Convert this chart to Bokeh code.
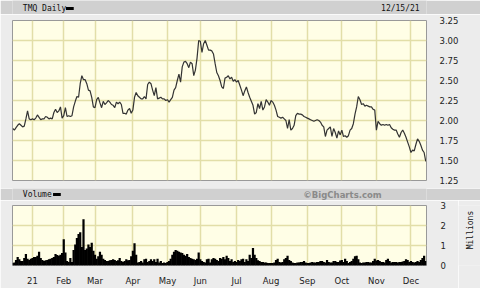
import math
import numpy as np
import pandas as pd
from bokeh.plotting import figure
from bokeh.models import Range1d, FixedTicker, Label
from bokeh.layouts import column, row
from bokeh.embed import file_html
from bokeh.resources import INLINE

# ---------------- data ----------------
symbol = "TMQ"
as_of = "12/15/21"
start_date = "2020-12-15"
end_date = "2021-12-15"
holidays = ["2020-12-25", "2021-01-01", "2021-01-18", "2021-02-15", "2021-04-02",
            "2021-05-31", "2021-07-05", "2021-09-06", "2021-11-25"]

close = [
    1.90, 1.88, 1.91, 1.94, 1.96, 1.94, 1.92, 1.93, 2.02, 2.12,
    2.02, 2.01, 2.02, 2.01, 2.03, 2.07, 2.04, 2.01, 2.02, 2.02,
    2.05, 2.04, 2.02, 2.03, 2.02, 2.10, 2.14, 2.10, 2.12, 2.17,
    2.03, 2.06, 2.16, 2.05, 2.06, 2.05, 2.06, 2.17, 2.24, 2.30,
    2.29, 2.46, 2.56, 2.51, 2.51, 2.46, 2.38, 2.37, 2.29, 2.17,
    2.16, 2.26, 2.29, 2.22, 2.16, 2.24, 2.20, 2.22, 2.25, 2.23,
    2.20, 2.19, 2.16, 2.23, 2.21, 2.23, 2.20, 2.09, 2.09, 2.08,
    2.13, 2.15, 2.09, 2.13, 2.29, 2.35, 2.31, 2.29, 2.27, 2.27,
    2.30, 2.27, 2.45, 2.48, 2.46, 2.38, 2.31, 2.41, 2.27, 2.28,
    2.29, 2.27, 2.27, 2.25, 2.26, 2.23, 2.26, 2.29, 2.38, 2.41,
    2.50, 2.58, 2.48, 2.67, 2.73, 2.74, 2.71, 2.66, 2.73, 2.71,
    2.56, 2.63, 2.78, 3.00, 2.99, 2.85, 2.96, 3.00, 2.94, 2.88,
    2.88, 2.87, 2.83, 2.71, 2.60, 2.56, 2.50, 2.42, 2.40, 2.53,
    2.54, 2.56, 2.52, 2.54, 2.49, 2.51, 2.48, 2.50, 2.44, 2.38,
    2.31, 2.37, 2.42, 2.35, 2.29, 2.24, 2.19, 2.08, 2.10, 2.21,
    2.15, 2.24, 2.13, 2.17, 2.26, 2.23, 2.19, 2.25, 2.23, 2.19,
    2.13, 2.05, 2.04, 2.03, 2.04, 2.02, 2.00, 1.90, 2.01, 1.88,
    1.90, 1.94, 2.06, 2.09, 2.08, 2.08, 2.07, 2.05, 2.04, 2.03,
    2.02, 2.01, 2.00, 1.99, 2.00, 2.01, 2.00, 1.98, 1.94, 1.92,
    1.80, 1.88, 1.90, 1.92, 1.80, 1.90, 1.85, 1.78, 1.87, 1.82,
    1.88, 1.80, 1.81, 1.79, 1.81, 1.88, 1.90, 1.96, 2.08, 2.17,
    2.30, 2.26, 2.20, 2.21, 2.18, 2.19, 2.18, 2.17, 2.17, 2.14,
    2.13, 1.88, 1.99, 1.96, 1.94, 1.95, 1.94, 1.95, 1.94, 1.95,
    1.91, 1.89, 1.88, 1.88, 1.83, 1.79, 1.85, 1.88, 1.84, 1.79,
    1.73, 1.67, 1.60, 1.63, 1.62, 1.70, 1.77, 1.74, 1.69, 1.63,
    1.60, 1.49,
]

volume_m = [
    0.12, 0.15, 0.28, 0.43, 0.31, 0.22, 0.23, 0.38, 0.58, 0.34,
    0.28, 0.34, 0.38, 0.43, 0.42, 0.49, 0.69, 0.37, 0.28, 0.23,
    0.26, 0.28, 0.31, 0.34, 0.37, 0.43, 0.57, 0.52, 0.49, 0.54,
    0.62, 1.31, 0.65, 0.23, 0.18, 0.37, 0.18, 0.77, 1.05, 1.38,
    1.57, 1.66, 0.92, 2.31, 0.77, 0.85, 1.05, 0.92, 1.14, 0.74,
    0.54, 0.34, 0.46, 0.69, 0.54, 0.34, 0.28, 0.23, 0.23, 0.26,
    0.28, 0.31, 0.28, 0.23, 0.26, 0.38, 0.23, 0.18, 0.23, 0.31,
    0.26, 0.28, 0.46, 0.74, 1.11, 0.54, 0.15, 0.18, 0.23, 0.15,
    0.31, 0.34, 0.18, 0.23, 0.31, 0.23, 0.31, 0.18, 0.34, 0.15,
    0.23, 0.12, 0.15, 0.12, 0.18, 0.23, 0.34, 0.54, 0.69, 0.77,
    0.74, 0.69, 0.65, 0.62, 0.54, 0.49, 0.58, 0.43, 0.37, 0.34,
    0.31, 0.28, 0.34, 0.65, 0.31, 0.23, 0.18, 0.15, 0.31, 0.34,
    0.15, 0.31, 0.38, 0.34, 0.28, 0.23, 0.38, 0.34, 0.43, 0.31,
    0.49, 0.38, 0.23, 0.31, 0.18, 0.23, 0.18, 0.28, 0.23, 0.31,
    0.34, 0.18, 0.31, 0.23, 0.54, 0.38, 0.88, 0.54, 0.37, 0.26,
    0.22, 0.18, 0.18, 0.15, 0.15, 0.12, 0.12, 0.12, 0.12, 0.15,
    0.28, 0.34, 0.18, 0.15, 0.18, 0.31, 0.37, 0.49, 0.28, 0.22,
    0.15, 0.12, 0.12, 0.15, 0.15, 0.18, 0.18, 0.22, 0.15, 0.12,
    0.12, 0.15, 0.18, 0.15, 0.15, 0.18, 0.18, 0.22, 0.23, 0.18,
    0.15, 0.28, 0.18, 0.15, 0.15, 0.22, 0.23, 0.18, 0.18, 0.25,
    0.28, 0.18, 0.34, 0.23, 0.12, 0.18, 0.23, 0.34, 0.46, 0.49,
    0.31, 0.15, 0.12, 0.15, 0.15, 0.17, 0.18, 0.15, 0.15, 0.22,
    0.34, 0.25, 0.28, 0.23, 0.18, 0.17, 0.15, 0.28, 0.34, 0.23,
    0.15, 0.17, 0.18, 0.17, 0.15, 0.17, 0.18, 0.20, 0.23, 0.31,
    0.28, 0.18, 0.23, 0.18, 0.15, 0.18, 0.23, 0.18, 0.28, 0.38,
    0.49, 0.23,
]

price_ticks = [1.25, 1.50, 1.75, 2.00, 2.25, 2.50, 2.75, 3.00, 3.25]
volume_ticks = [0, 1, 2, 3]

# ---------------- derived ----------------
sessions = pd.bdate_range(start_date, end_date, freq="C", holidays=holidays)
n = len(close)
idx = np.arange(n)
month_starts = [i for i in range(1, min(n, len(sessions)))
                if sessions[i].month != sessions[i - 1].month]
month_labels = {i: (sessions[i].strftime("%y") if sessions[i].month == 1
                    else sessions[i].strftime("%b")) for i in month_starts}

# ---------------- style ----------------
W = 480
SIDE = 22
BG = "#ececec"
BAR = "#d0d0d0"
PLOT_BG = "#fffee6"
GRID = "#e2dea8"
FONT = "DejaVu Sans"
MONO = "DejaVu Sans Mono"
x_range = Range1d(-0.15, n - 0.55)


def plain(w, h, fill):
    f = figure(width=w, height=h, x_range=Range1d(0, w), y_range=Range1d(0, h),
               min_border=0, toolbar_location=None, x_axis_location=None,
               y_axis_location=None, output_backend="svg", title=None)
    f.background_fill_color = fill
    f.border_fill_color = fill
    f.outline_line_color = None
    f.grid.visible = False
    return f


def style_right_axis(ax, standoff):
    ax.axis_line_color = None
    ax.major_tick_line_color = None
    ax.minor_tick_line_color = None
    ax.major_label_standoff = standoff
    ax.major_label_text_font = FONT
    ax.major_label_text_font_size = "8.5px"
    ax.major_label_text_color = "#222222"


# header 1
h1 = plain(W, 14, BAR)
h1.add_layout(Label(x=12, y=6.5, text=f"{symbol} Daily", text_baseline="middle",
                    text_font=MONO, text_font_size="8px", text_color="#111111"))
h1.segment(x0=[62], y0=[6], x1=[71], y1=[6], line_width=3, line_color="black")
h1.add_layout(Label(x=472, y=6.5, text=as_of, text_align="right", text_baseline="middle",
                    text_font=MONO, text_font_size="8px", text_color="#111111"))

# price
p = figure(width=W, height=174, x_range=x_range, y_range=Range1d(1.25, 3.25),
           min_border_left=12, min_border_right=54, min_border_top=6, min_border_bottom=8,
           x_axis_location=None, y_axis_location="right", toolbar_location=None,
           output_backend="svg", title=None)
p.background_fill_color = PLOT_BG
p.border_fill_color = BG
p.outline_line_color = "#999999"
p.line(idx, close, line_color="#333333", line_width=1.2)
p.yaxis.ticker = FixedTicker(ticks=price_ticks)
p.yaxis.major_label_overrides = {t: f"{t:.2f}" for t in price_ticks}
style_right_axis(p.yaxis[0], 7)
p.xgrid.ticker = FixedTicker(ticks=month_starts)
p.ygrid.ticker = FixedTicker(ticks=price_ticks)
p.grid.grid_line_color = GRID
p.grid.grid_line_width = 1.5

# header 2
h2 = plain(W, 12, BAR)
h2.add_layout(Label(x=12, y=6, text="Volume", text_baseline="middle",
                    text_font=MONO, text_font_size="8px", text_color="#111111"))
h2.segment(x0=[47], y0=[6], x1=[56], y1=[6], line_width=3, line_color="black")
h2.add_layout(Label(x=428, y=6, text="\u00a9BigCharts.com", text_align="right",
                    text_baseline="middle", text_font=FONT, text_font_style="bold",
                    text_font_size="8.5px", text_color="#8a8a8a"))

# volume
v = figure(width=W - SIDE, height=88, x_range=x_range, y_range=Range1d(0, 3),
           min_border_left=12, min_border_right=W - SIDE - 426, min_border_top=5,
           min_border_bottom=17, x_axis_location="below", y_axis_location="right",
           toolbar_location=None, output_backend="svg", title=None)
v.background_fill_color = PLOT_BG
v.border_fill_color = BG
v.outline_line_color = "#999999"
v.vbar(x=idx, top=volume_m, width=1.35, fill_color="black", line_color=None)
v.yaxis.ticker = FixedTicker(ticks=volume_ticks)
style_right_axis(v.yaxis[0], 8)
v.xaxis.ticker = FixedTicker(ticks=month_starts)
v.xaxis.major_label_overrides = month_labels
xa = v.xaxis[0]
xa.axis_line_color = None
xa.major_tick_line_color = None
xa.minor_tick_line_color = None
xa.major_label_standoff = 4
xa.major_label_text_font = FONT
xa.major_label_text_font_size = "8.5px"
xa.major_label_text_color = "#222222"
v.xgrid.ticker = FixedTicker(ticks=month_starts)
v.ygrid.ticker = FixedTicker(ticks=volume_ticks)
v.grid.grid_line_color = GRID
v.grid.grid_line_width = 1.5

# units caption at the right of the volume panel
m = plain(SIDE, 88, BG)
m.add_layout(Label(x=12, y=52, text="Millions", angle=math.pi / 2,
                   text_align="center", text_baseline="middle", text_font=MONO,
                   text_font_size="8px", text_color="#111111"))

layout = column(h1, p, h2, row(v, m, spacing=0), spacing=0)
open("out.html", "w").write(file_html(layout, INLINE))
